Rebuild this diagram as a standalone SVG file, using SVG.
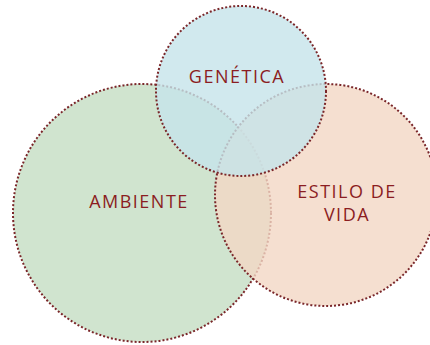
<svg xmlns="http://www.w3.org/2000/svg" width="430" height="345" viewBox="0 0 430 345">
<style>
.c{stroke:#7a2629;stroke-width:2;stroke-dasharray:2 2;fill-opacity:0.8}
.t{font-family:"Open Sans","Liberation Sans",sans-serif;font-size:18px;font-weight:500;fill:#8b1d22;text-anchor:middle;letter-spacing:1.5px}
</style>
<rect width="430" height="345" fill="#ffffff"/>
<g id="ambiente">
<circle class="c" cx="142" cy="213" r="129" fill="#d0e4cf" style="fill-opacity:1"/>
<text class="t" x="139" y="208">AMBIENTE</text>
</g>
<g id="estilo">
<circle class="c" cx="326" cy="195" r="111" fill="#f2d7c4"/>
<text class="t" x="347" y="198">ESTILO DE</text>
<text class="t" x="347" y="221">VIDA</text>
</g>
<g id="genetica">
<circle class="c" cx="241" cy="91" r="85" fill="#c5e4ea"/>
<text class="t" x="237" y="83">GENÉTICA</text>
</g>
<g id="connectors"/>
</svg>
